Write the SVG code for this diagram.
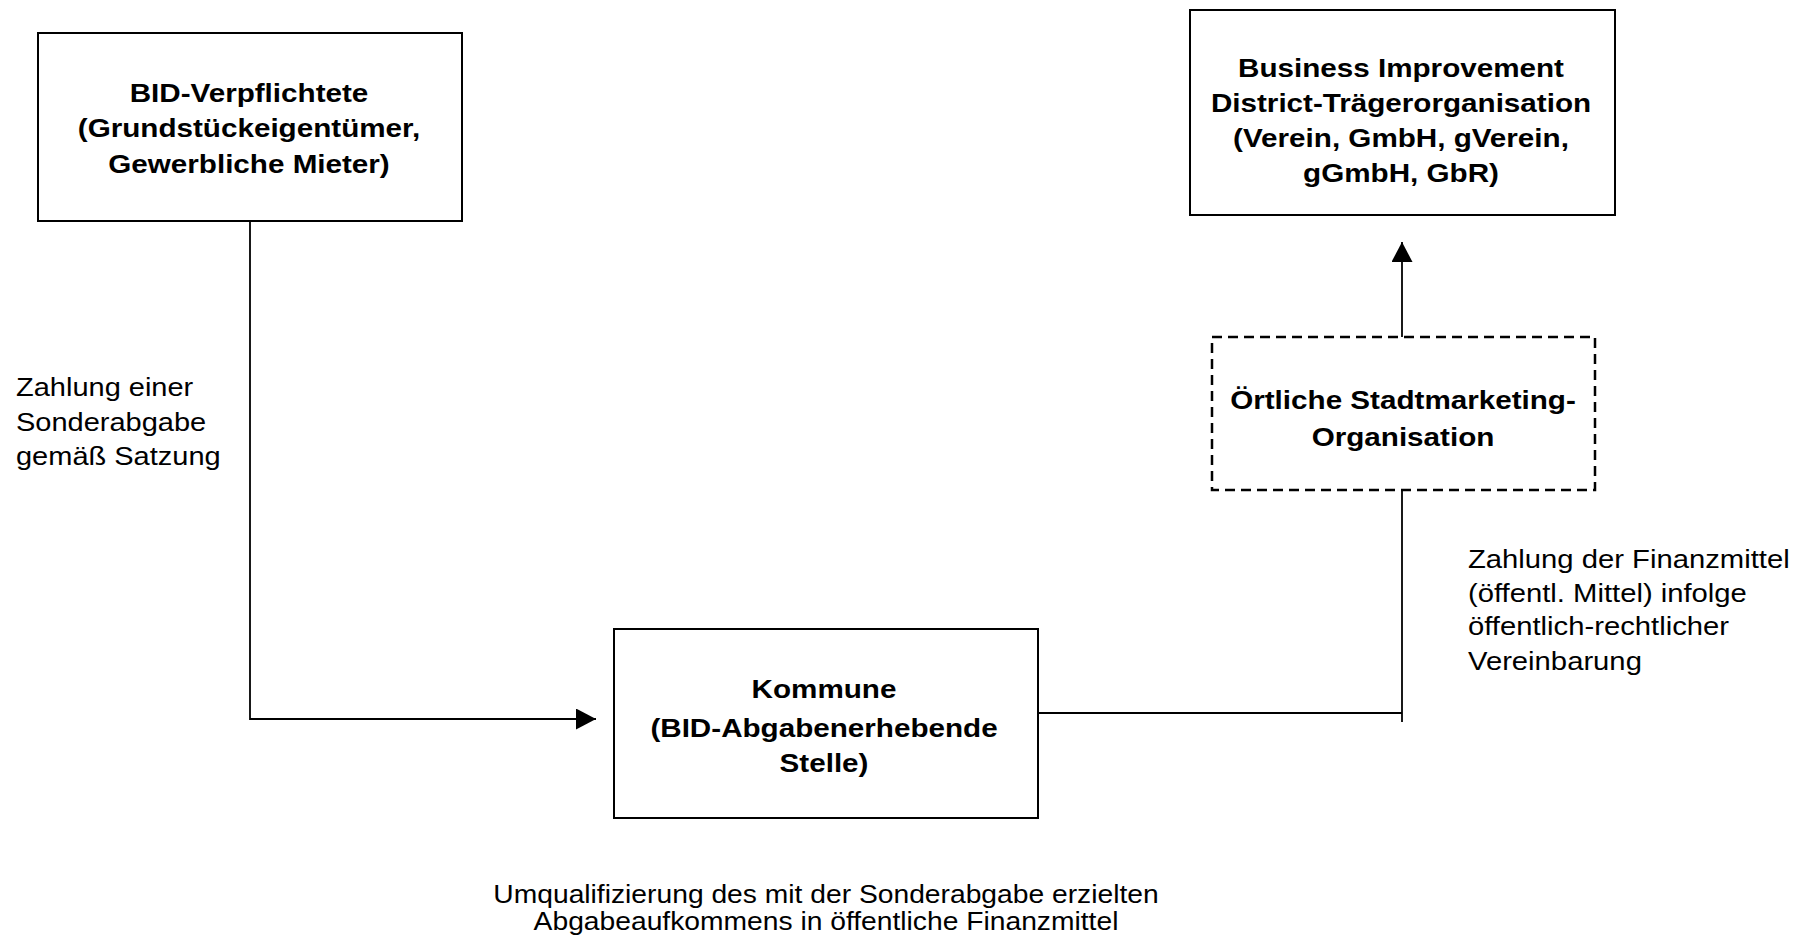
<svg xmlns="http://www.w3.org/2000/svg" width="1807" height="945" viewBox="0 0 1807 945">
<defs>
<style>
.box{fill:#fff;stroke:#000;stroke-width:2}
.dash{fill:#fff;stroke:#000;stroke-width:2.5;stroke-dasharray:10 6}
.conn{fill:none;stroke:#000;stroke-width:1.8}
.b{font-family:"Liberation Sans",Arial,sans-serif;font-weight:bold;font-size:26px;text-anchor:middle;fill:#000}
.n{font-family:"Liberation Sans",Arial,sans-serif;font-size:25px;fill:#000}
.nc{font-family:"Liberation Sans",Arial,sans-serif;font-size:25px;fill:#000;text-anchor:middle}
</style>
<marker id="arr" markerUnits="userSpaceOnUse" markerWidth="21" markerHeight="22" refX="20" refY="10.5" orient="auto">
<path d="M0,0 L20,10.5 L0,21 z" fill="#000"/>
</marker>
</defs>
<rect width="1807" height="945" fill="#fff"/>

<g id="connectors">
<path class="conn" d="M250,221 V719 H596" marker-end="url(#arr)"/>
<path class="conn" d="M1038,713 H1402"/>
<path class="conn" d="M1402,491 V722"/>
<path class="conn" d="M1402,337 V242" marker-end="url(#arr)"/>
</g>

<g id="bid-verpflichtete">
<rect class="box" x="38" y="33" width="424" height="188"/>
<text class="b" transform="translate(249,101.5) scale(1.14,1)">BID-Verpflichtete</text>
<text class="b" transform="translate(249,137) scale(1.14,1)">(Grundstückeigentümer,</text>
<text class="b" transform="translate(249,172.5) scale(1.14,1)">Gewerbliche Mieter)</text>
</g>

<g id="bid-traeger">
<rect class="box" x="1190" y="10" width="425" height="205"/>
<text class="b" transform="translate(1401,77) scale(1.14,1)">Business Improvement</text>
<text class="b" transform="translate(1401,112) scale(1.14,1)">District-Trägerorganisation</text>
<text class="b" transform="translate(1401,147) scale(1.14,1)">(Verein, GmbH, gVerein,</text>
<text class="b" transform="translate(1401,182) scale(1.14,1)">gGmbH, GbR)</text>
</g>

<g id="stadtmarketing">
<rect class="dash" x="1212" y="337" width="383" height="153"/>
<text class="b" transform="translate(1403,409) scale(1.14,1)">Örtliche Stadtmarketing-</text>
<text class="b" transform="translate(1403,446) scale(1.14,1)">Organisation</text>
</g>

<g id="kommune">
<rect class="box" x="614" y="629" width="424" height="189"/>
<text class="b" transform="translate(824,698) scale(1.14,1)">Kommune</text>
<text class="b" transform="translate(824,737) scale(1.14,1)">(BID-Abgabenerhebende</text>
<text class="b" transform="translate(824,772) scale(1.14,1)">Stelle)</text>
</g>

<g id="label-sonderabgabe">
<text class="n" transform="translate(16,396) scale(1.16,1)">Zahlung einer</text>
<text class="n" transform="translate(16,431) scale(1.16,1)">Sonderabgabe</text>
<text class="n" transform="translate(16,465) scale(1.16,1)">gemäß Satzung</text>
</g>

<g id="label-finanzmittel">
<text class="n" transform="translate(1468,568) scale(1.17,1)">Zahlung der Finanzmittel</text>
<text class="n" transform="translate(1468,601.5) scale(1.17,1)">(öffentl. Mittel) infolge</text>
<text class="n" transform="translate(1468,635) scale(1.17,1)">öffentlich-rechtlicher</text>
<text class="n" transform="translate(1468,669.5) scale(1.17,1)">Vereinbarung</text>
</g>

<g id="label-umqualifizierung">
<text class="nc" transform="translate(826,903) scale(1.13,1)">Umqualifizierung des mit der Sonderabgabe erzielten</text>
<text class="nc" transform="translate(826,930) scale(1.13,1)">Abgabeaufkommens in öffentliche Finanzmittel</text>
</g>
</svg>
